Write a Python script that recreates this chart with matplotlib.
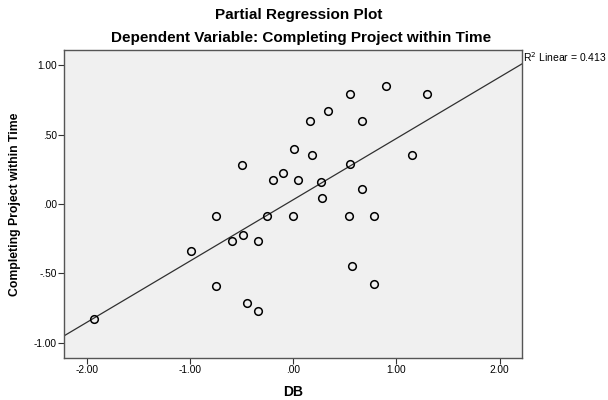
import numpy as np
import matplotlib.pyplot as plt

plt.rcParams['font.family'] = ['Liberation Sans', 'DejaVu Sans']

# Partial regression residuals
db = [-1.93, -0.99, -0.75, -0.75, -0.59, -0.48, -0.45, -0.34, -0.34, -0.25,
      0.00, -0.49, -0.19, -0.10, 0.05, 0.01, 0.16, 0.18, 0.34, 0.27,
      0.28, 0.55, 0.55, 0.54, 0.57, 0.67, 0.67, 0.78, 0.78, 0.90,
      1.30, 1.15]
completing = [-0.83, -0.34, -0.09, -0.59, -0.27, -0.22, -0.71, -0.27, -0.77, -0.09,
              -0.09, 0.28, 0.17, 0.22, 0.17, 0.40, 0.60, 0.35, 0.67, 0.16,
              0.04, 0.79, 0.29, -0.09, -0.45, 0.60, 0.11, -0.09, -0.58, 0.85,
              0.79, 0.35]

# fit line as shown in the chart
slope = 0.442
intercept = 0.03
r2_text = 'R$^2$ Linear = 0.413'

x_ticks = [-2, -1, 0, 1, 2]
x_labels = ['-2.00', '-1.00', '.00', '1.00', '2.00']
y_ticks = [1, 0.5, 0, -0.5, -1]
y_labels = ['1.00', '.50', '.00', '-.50', '-1.00']

fig = plt.figure(figsize=(6.08, 4.0), dpi=100)
ax = fig.add_axes([0.105, 0.105, 0.754, 0.77])
ax.set_facecolor('#f0f0f0')

xs = np.array([-2.22, 2.22])
ax.plot(xs, intercept + slope * xs, color='#303030', lw=0.9)
ax.plot(db, completing, 'o', ms=5.5, mfc='none', mec='black', mew=1.1)

ax.set_xlim(-2.22, 2.22)
ax.set_ylim(-1.11, 1.11)
ax.set_xticks(x_ticks)
ax.set_xticklabels(x_labels)
ax.set_yticks(y_ticks)
ax.set_yticklabels(y_labels)
ax.tick_params(labelsize=7.3, length=4, width=0.8, color='#333333', pad=1)
for s in ax.spines.values():
    s.set_color('#555555')
    s.set_linewidth(1.0)

ax.set_xlabel('DB', fontsize=10, fontweight='bold', labelpad=7)
ax.set_ylabel('Completing Project within Time', fontsize=8.8, fontweight='bold', labelpad=9)

fig.text(0.492, 0.962, 'Partial Regression Plot', ha='center', va='center',
         fontsize=11, fontweight='bold')
fig.text(0.495, 0.904, 'Dependent Variable: Completing Project within Time',
         ha='center', va='center', fontsize=11, fontweight='bold')
fig.text(0.861, 0.857, r2_text, ha='left', va='center', fontsize=7.5)

plt.savefig('out.png', dpi=100)
